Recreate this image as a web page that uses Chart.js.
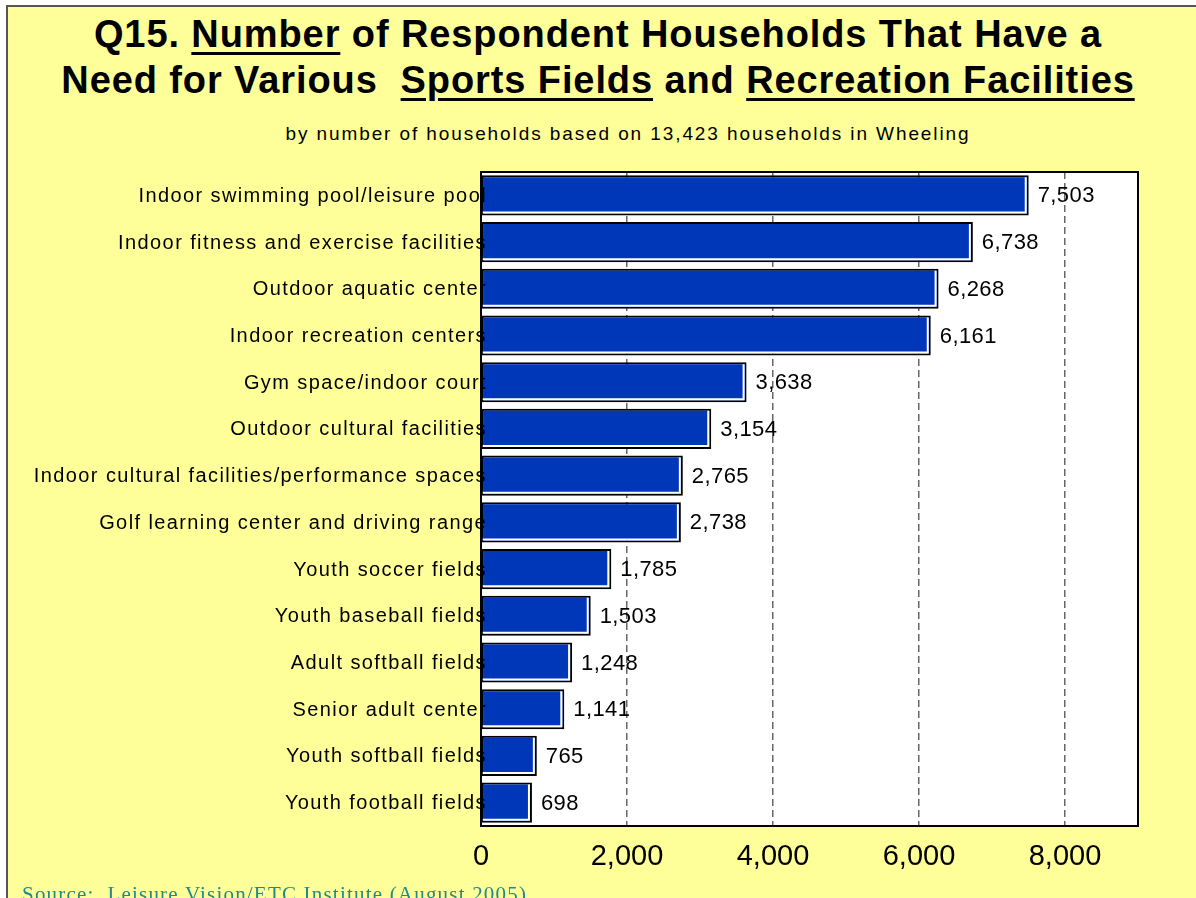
<!DOCTYPE html>
<html>
<head>
<meta charset="utf-8">
<script src="https://cdn.jsdelivr.net/npm/chart.js@4.4.1/dist/chart.umd.min.js"></script>
<style>
  html, body { margin: 0; padding: 0; }
  body { width: 1196px; height: 898px; overflow: hidden; background: #ffffff; position: relative; font-family: "Liberation Sans", Arial, sans-serif; }
  #slide { position: absolute; left: 6px; top: 5px; width: 1300px; height: 1000px; background: #FFFF99; border-left: 2px solid #555; border-top: 2px solid #555; box-sizing: border-box; }
  .title { position: absolute; left: 0; width: 1196px; text-align: center; font-weight: bold; font-size: 38px; line-height: 42px; letter-spacing: 0.9px; color: #000; white-space: nowrap; }
  .title u { text-decoration-thickness: 3px; text-underline-offset: 5px; }
  #sub { position: absolute; left: 0; width: 1256px; text-align: center; font-size: 19px; line-height: 22px; letter-spacing: 1.9px; color: #000; white-space: nowrap; }
  #src { position: absolute; left: 22px; top: 882px; font-family: "Liberation Serif", "Times New Roman", serif; font-size: 21px; line-height: 24px; letter-spacing: 1.2px; color: #1E8A8A; white-space: pre; }
  #wrap { position: absolute; left: 0; top: 0; width: 1196px; height: 898px; }
</style>
</head>
<body>
<div id="slide"></div>
<div class="title" style="top:13px;">Q15. <u>Number</u> of Respondent Households That Have a</div>
<div class="title" style="top:59px;">Need for Various&nbsp; <u>Sports Fields</u> and <u>Recreation Facilities</u></div>
<div id="sub" style="top:123px;">by number of households based on 13,423 households in Wheeling</div>
<div id="wrap"><canvas id="c" width="1196" height="898"></canvas></div>
<div id="src">Source:  Leisure Vision/ETC Institute (August 2005)</div>
<script>
// Facilities and the number of households needing each
const categories = [
  "Indoor swimming pool/leisure pool",
  "Indoor fitness and exercise facilities",
  "Outdoor aquatic center",
  "Indoor recreation centers",
  "Gym space/indoor court",
  "Outdoor cultural facilities",
  "Indoor cultural facilities/performance spaces",
  "Golf learning center and driving range",
  "Youth soccer fields",
  "Youth baseball fields",
  "Adult softball fields",
  "Senior adult center",
  "Youth softball fields",
  "Youth football fields"
];
const households = [7503, 6738, 6268, 6161, 3638, 3154, 2765, 2738, 1785, 1503, 1248, 1141, 765, 698];
const tickValues = [0, 2000, 4000, 6000, 8000];
const axisMax = 9000;

const fmt = v => v.toLocaleString('en-US');

// White plot area, bar bevel, framing, and the text drawn on top of the bars
const plotDecor = {
  id: 'plotDecor',
  beforeDraw(chart) {
    const a = chart.chartArea, ctx = chart.ctx;
    ctx.save();
    ctx.fillStyle = '#ffffff';
    ctx.fillRect(a.left, a.top, a.right - a.left, a.bottom - a.top);
    ctx.restore();
  },
  afterDatasetsDraw(chart) {
    const a = chart.chartArea, ctx = chart.ctx;
    const meta = chart.getDatasetMeta(0);
    ctx.save();
    // bar bevel: white highlight inside the right and bottom edges
    meta.data.forEach(bar => {
      const p = bar.getProps(['x', 'y', 'base', 'height'], true);
      const top = p.y - p.height / 2, bottom = p.y + p.height / 2;
      ctx.strokeStyle = '#ffffff';
      ctx.lineWidth = 2;
      ctx.beginPath();
      ctx.moveTo(p.base + 1, bottom - 3);
      ctx.lineTo(p.x - 3, bottom - 3);
      ctx.lineTo(p.x - 3, top + 2);
      ctx.stroke();
    });
    // plot frame
    ctx.strokeStyle = '#000000';
    ctx.lineWidth = 2;
    ctx.strokeRect(a.left, a.top, a.right - a.left, a.bottom - a.top);
    // value labels
    ctx.fillStyle = '#000000';
    ctx.font = '22px "Liberation Sans", Arial, sans-serif';
    ctx.letterSpacing = '0.4px';
    ctx.textAlign = 'left';
    ctx.textBaseline = 'middle';
    meta.data.forEach((bar, i) => {
      const p = bar.getProps(['x', 'y'], true);
      ctx.fillText(fmt(households[i]), p.x + 9, p.y + 1);
    });
    // category labels
    const ys = chart.scales.y;
    ctx.font = '20px "Liberation Sans", Arial, sans-serif';
    ctx.letterSpacing = '1.4px';
    ctx.textAlign = 'right';
    categories.forEach((c, i) => {
      ctx.fillText(c, a.left + 6, ys.getPixelForValue(i) + 1);
    });
    ctx.restore();
  }
};

new Chart(document.getElementById('c'), {
  type: 'bar',
  data: {
    labels: categories,
    datasets: [{
      data: households,
      backgroundColor: '#0036B8',
      borderColor: '#000000',
      borderWidth: 2,
      borderSkipped: false,
      barPercentage: 0.86,
      categoryPercentage: 1.0
    }]
  },
  options: {
    indexAxis: 'y',
    responsive: false,
    animation: false,
    devicePixelRatio: 1,
    layout: { padding: { left: 481, right: 58, top: 172, bottom: 0 } },
    plugins: { legend: { display: false }, tooltip: { enabled: false }, title: { display: false } },
    scales: {
      y: { display: false },
      x: {
        min: 0,
        max: axisMax,
        afterBuildTicks: s => { s.ticks = tickValues.map(v => ({ value: v })); },
        afterFit: s => { s.height = 72; },
        border: { display: false, dash: [7, 4] },
        grid: {
          drawTicks: false,
          color: ctx => (ctx.tick && ctx.tick.value === 0) ? 'rgba(0,0,0,0)' : '#666666',
          lineWidth: 1.5
        },
        ticks: {
          padding: 14,
          color: '#000000',
          font: { family: '"Liberation Sans", Arial, sans-serif', size: 29 },
          callback: v => fmt(v)
        }
      }
    }
  },
  plugins: [plotDecor]
});
</script>
</body>
</html>
